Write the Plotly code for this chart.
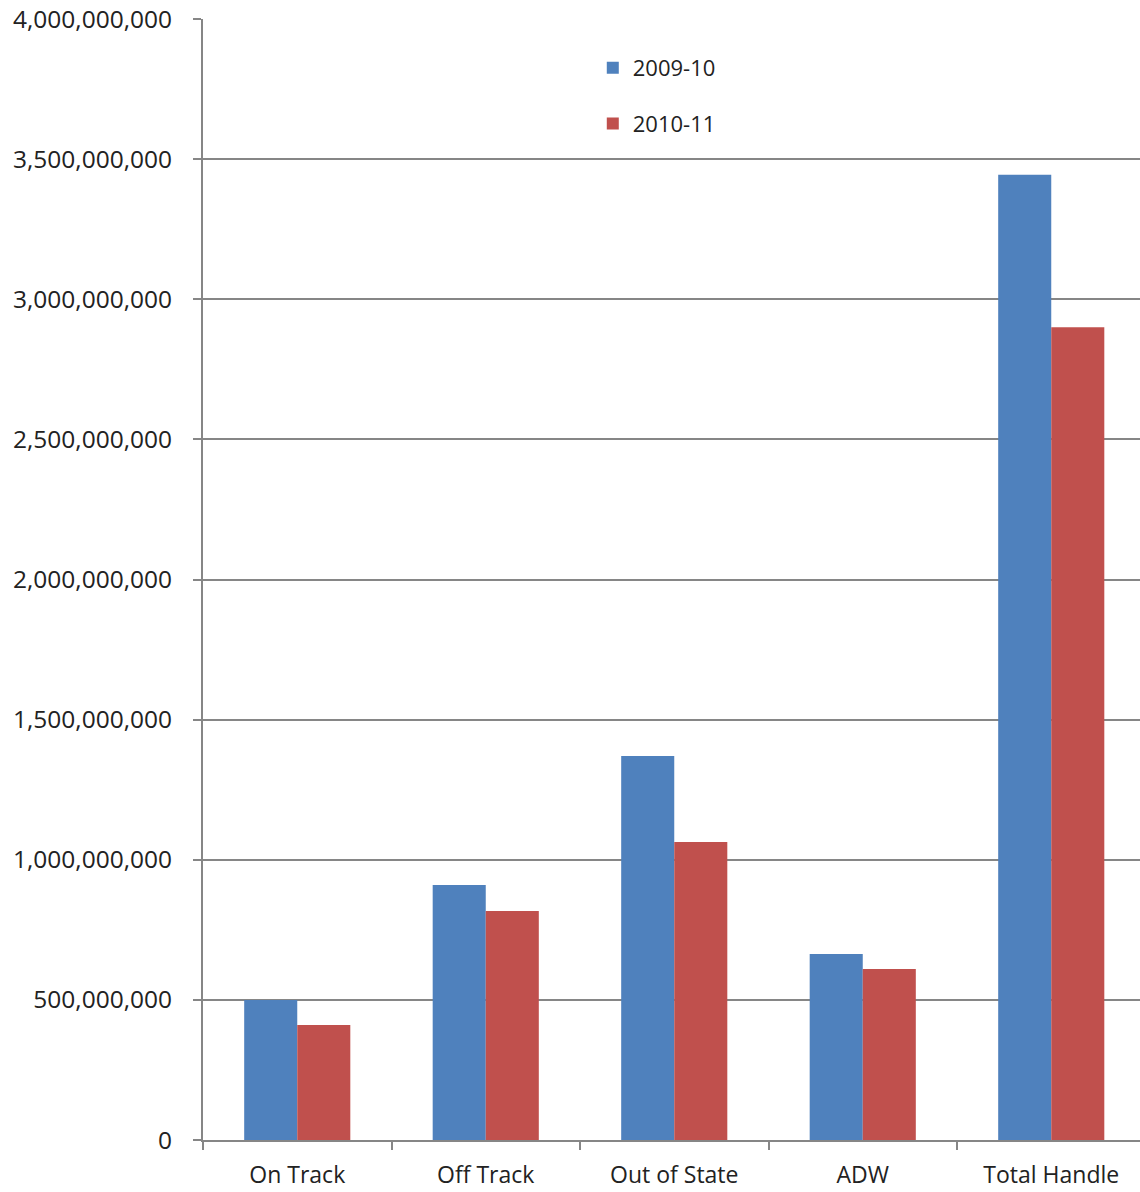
import plotly.graph_objects as go

categories = ["On Track", "Off Track", "Out of State", "ADW", "Total Handle"]
handle_2009_10 = [500_000_000, 910_000_000, 1_370_000_000, 664_000_000, 3_444_000_000]
handle_2010_11 = [410_000_000, 817_000_000, 1_063_000_000, 610_000_000, 2_900_000_000]
y_ticks = [0, 500_000_000, 1_000_000_000, 1_500_000_000, 2_000_000_000,
           2_500_000_000, 3_000_000_000, 3_500_000_000, 4_000_000_000]
y_tick_labels = ["0", "500,000,000", "1,000,000,000", "1,500,000,000", "2,000,000,000",
                 "2,500,000,000", "3,000,000,000", "3,500,000,000", "4,000,000,000"]

BLUE = "#4F81BD"
RED = "#C0504D"
GRID = "#868686"
FONT = "Open Sans"

fig = go.Figure()
fig.add_trace(go.Bar(x=categories, y=handle_2009_10, name="2009-10",
                     marker=dict(color=BLUE, line=dict(width=0)), legendgroup="a"))
fig.add_trace(go.Bar(x=categories, y=handle_2010_11, name="2010-11",
                     marker=dict(color=RED, line=dict(width=0)), legendgroup="b"))

W, H = 1140, 1192
ml, mr, mt, mb = 203, 0, 19, 52
plot_w = W - ml - mr
cat_px = 188.5

fig.update_layout(
    width=W, height=H,
    margin=dict(l=ml, r=mr, t=mt, b=mb, pad=0, autoexpand=False),
    paper_bgcolor="white", plot_bgcolor="white",
    barmode="group", bargap=0.437, bargroupgap=0,
    font=dict(family=FONT, size=22, color="#222222"),
    showlegend=True,
    legend=dict(x=0.416, y=0.975, xanchor="left", yanchor="top",
                bgcolor="rgba(0,0,0,0)", tracegroupgap=24,
                font=dict(family=FONT, size=22, color="#222222"),
                itemwidth=30),
    xaxis=dict(
        range=[-0.5, -0.5 + plot_w / cat_px],
        automargin=False,
        showline=True, linecolor=GRID, linewidth=2,
        ticks="outside", tickson="boundaries", ticklen=8, tickwidth=2, tickcolor=GRID,
        tickfont=dict(family=FONT, size=23, color="#222222"),
        ticklabelstandoff=13,
        showgrid=False, zeroline=False,
    ),
    yaxis=dict(
        range=[0, 4_000_000_000],
        automargin=False,
        tickvals=y_ticks, ticktext=y_tick_labels,
        showline=True, linecolor=GRID, linewidth=2,
        ticks="outside", ticklen=8, tickwidth=2, tickcolor=GRID,
        showgrid=True, gridcolor=GRID, gridwidth=2,
        zeroline=False,
        tickfont=dict(family=FONT, size=24.5, color="#222222"),
        ticklabelstandoff=16,
    ),
)

fig.write_html("out.html")
